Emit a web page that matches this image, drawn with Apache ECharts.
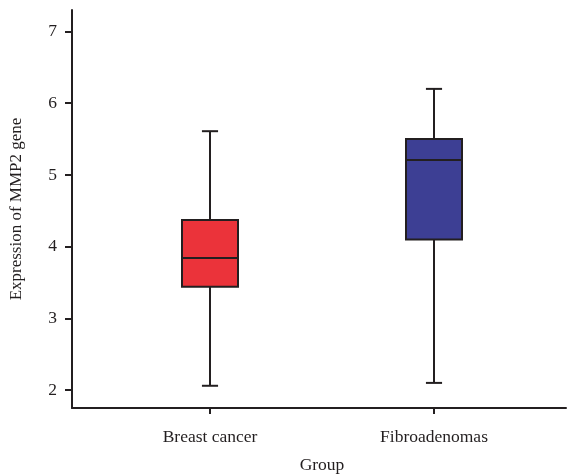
<!DOCTYPE html>
<html>
<head>
<meta charset="utf-8">
<script src="https://cdn.jsdelivr.net/npm/echarts@6/dist/echarts.min.js"></script>
<style>html,body{margin:0;padding:0;background:#fff;}#c{width:567px;height:475px;}</style>
</head>
<body>
<div id="c"></div>
<script>
const categories = ['Breast cancer', 'Fibroadenomas'];
const lowValues = [2.06, 2.10];
const q1Values = [3.44, 4.10];
const medianValues = [3.84, 5.21];
const q3Values = [4.37, 5.50];
const highValues = [5.61, 6.20];
const boxColors = ['#EB333A', '#3D3F94'];
const yTicks = [2, 3, 4, 5, 6, 7];
const yMin = 1.75, yMax = 7.3;

const FONT = '"Liberation Serif", "DejaVu Serif", serif';
const INK = '#231f20';

const data = categories.map((c, i) => [i, lowValues[i], q1Values[i], medianValues[i], q3Values[i], highValues[i]]);

const chart = echarts.init(document.getElementById('c'), null, {renderer: 'canvas'});
chart.setOption({
  animation: false,
  backgroundColor: '#fff',
  grid: [
    {left: 98, right: 21, top: 10, bottom: 67, containLabel: false, outerBoundsMode: 'none'},
    {left: 72, right: 1, top: 10, bottom: 67, containLabel: false, outerBoundsMode: 'none'}
  ],
  xAxis: [
    {
      type: 'category', gridIndex: 0, data: categories,
      axisLine: {show: false},
      axisTick: {show: true, alignWithLabel: true, length: 6, lineStyle: {color: INK, width: 2}},
      axisLabel: {color: INK, fontFamily: FONT, fontSize: 17.5, margin: 20},
      name: 'Group', nameLocation: 'middle', nameGap: 48,
      nameTextStyle: {color: INK, fontFamily: FONT, fontSize: 17.5},
      splitLine: {show: false}
    },
    {
      type: 'value', gridIndex: 1, min: 0, max: 1,
      axisLine: {show: true, lineStyle: {color: INK, width: 2}},
      axisTick: {show: false}, axisLabel: {show: false}, splitLine: {show: false}
    }
  ],
  yAxis: [
    {
      type: 'value', gridIndex: 0, min: yMin, max: yMax, show: false, splitLine: {show: false}
    },
    {
      type: 'value', gridIndex: 1, min: yMin, max: yMax,
      axisLine: {show: true, lineStyle: {color: INK, width: 2}},
      axisTick: {show: true, length: 7, lineStyle: {color: INK, width: 2}, customValues: yTicks},
      axisLabel: {color: INK, fontFamily: FONT, fontSize: 17.5, margin: 15, customValues: yTicks},
      splitLine: {show: false},
      name: 'Expression of MMP2 gene', nameLocation: 'middle', nameGap: 47, nameRotate: 90,
      nameTextStyle: {color: INK, fontFamily: FONT, fontSize: 17}
    }
  ],
  series: [{
    type: 'custom',
    xAxisIndex: 0, yAxisIndex: 0,
    data: data,
    encode: {x: 0, y: [1, 2, 3, 4, 5]},
    renderItem: function (params, api) {
      const idx = api.value(0);
      const pLow = api.coord([idx, api.value(1)]);
      const pQ1 = api.coord([idx, api.value(2)]);
      const pMed = api.coord([idx, api.value(3)]);
      const pQ3 = api.coord([idx, api.value(4)]);
      const pHigh = api.coord([idx, api.value(5)]);
      const band = api.size([1, 0])[0];
      const bw = band * 0.25;
      const cw = band * 0.072;
      const x = pMed[0];
      const ls = {stroke: INK, lineWidth: 2};
      return {
        type: 'group',
        children: [
          {type: 'line', shape: {x1: x, y1: pHigh[1], x2: x, y2: pQ3[1]}, style: ls},
          {type: 'line', shape: {x1: x, y1: pQ1[1], x2: x, y2: pLow[1]}, style: ls},
          {type: 'line', shape: {x1: x - cw / 2, y1: pHigh[1], x2: x + cw / 2, y2: pHigh[1]}, style: ls},
          {type: 'line', shape: {x1: x - cw / 2, y1: pLow[1], x2: x + cw / 2, y2: pLow[1]}, style: ls},
          {type: 'rect', shape: {x: x - bw / 2, y: pQ3[1], width: bw, height: pQ1[1] - pQ3[1]},
            style: {fill: boxColors[idx], stroke: INK, lineWidth: 2}},
          {type: 'line', shape: {x1: x - bw / 2, y1: pMed[1], x2: x + bw / 2, y2: pMed[1]}, style: ls}
        ]
      };
    }
  }]
});
</script>
</body>
</html>
